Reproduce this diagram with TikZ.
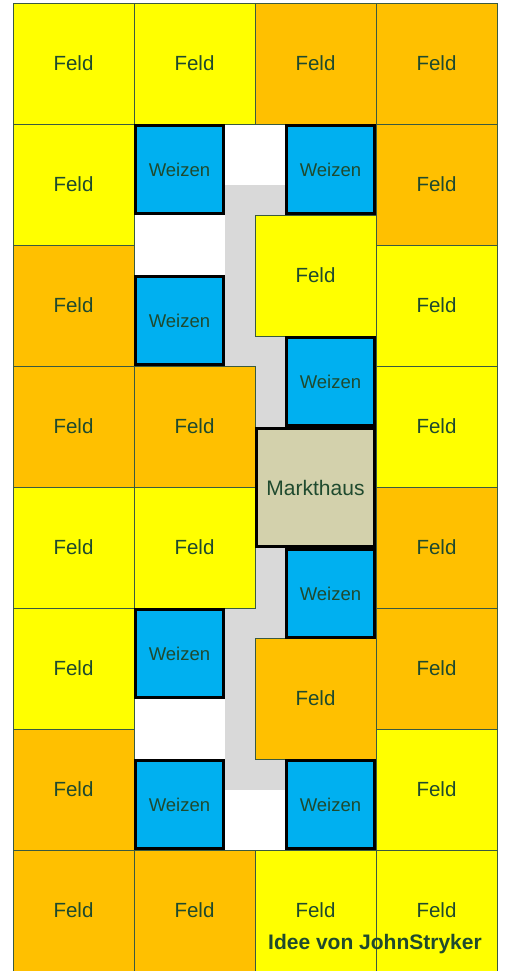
\documentclass[tikz,border=0pt]{standalone}
\usepackage{fontspec}
\setmainfont{Liberation Sans}
\definecolor{fyel}{HTML}{FFFF00}
\definecolor{forg}{HTML}{FFC000}
\definecolor{wblue}{HTML}{00B0F0}
\definecolor{mtan}{HTML}{D3D1AC}
\definecolor{pathgray}{HTML}{D9D9D9}
\definecolor{txt}{HTML}{1F4A2E}
\definecolor{cellline}{HTML}{3A5A40}
\begin{document}
\begin{tikzpicture}[x=1pt,y=-1pt,
  cell/.style={draw=cellline, line width=0.8pt, minimum width=121pt, minimum height=121pt,
    inner sep=0pt, outer sep=0pt, text=txt, font=\fontsize{20.5}{24}\selectfont},
  yel/.style={cell, fill=fyel},
  org/.style={cell, fill=forg},
  weizen/.style={draw=black, line width=3pt, fill=wblue, minimum size=88pt,
    inner sep=0pt, outer sep=0pt, text=txt, font=\fontsize{18.5}{22}\selectfont},
  markt/.style={draw=black, line width=3pt, fill=mtan, minimum size=118pt,
    inner sep=0pt, outer sep=0pt, text=txt, font=\fontsize{21}{25}\selectfont},
  credit/.style={text=txt, font=\fontsize{21}{25}\selectfont\bfseries, inner sep=0pt}]
\useasboundingbox (0,0) rectangle (507,971);
\fill[white] (0,0) rectangle (507,971);
% gray path
\fill[pathgray] (225,185) rectangle (285,790);
% row 0
\node[yel] (f00) at (73.5,63.5) {Feld};
\node[yel] (f01) at (194.5,63.5) {Feld};
\node[org] (f02) at (315.5,63.5) {Feld};
\node[org] (f03) at (436.5,63.5) {Feld};
% row 1
\node[yel] (f10) at (73.5,184.5) {Feld};
\node[org] (f13) at (436.5,184.5) {Feld};
% row 2
\node[org] (f20) at (73.5,305.5) {Feld};
\node[yel] (f23) at (436.5,305.5) {Feld};
% row 3
\node[org] (f30) at (73.5,426.5) {Feld};
\node[org] (f31) at (194.5,426.5) {Feld};
\node[yel] (f33) at (436.5,426.5) {Feld};
% row 4
\node[yel] (f40) at (73.5,547.5) {Feld};
\node[yel] (f41) at (194.5,547.5) {Feld};
\node[org] (f43) at (436.5,547.5) {Feld};
% row 5
\node[yel] (f50) at (73.5,668.5) {Feld};
\node[org] (f53) at (436.5,668.5) {Feld};
% row 6
\node[org] (f60) at (73.5,789.5) {Feld};
\node[yel] (f63) at (436.5,789.5) {Feld};
% row 7
\node[org] (f70) at (73.5,910.5) {Feld};
\node[org] (f71) at (194.5,910.5) {Feld};
\node[yel] (f72) at (315.5,910.5) {Feld};
\node[yel] (f73) at (436.5,910.5) {Feld};
% central offset fields
\node[yel] (fc1) at (315.5,275.5) {Feld};
\node[org] (fc2) at (315.5,698.5) {Feld};
% Weizen
\node[weizen] (w1) at (179.5,169.5) {Weizen};
\node[weizen] (w2) at (330.5,169.5) {Weizen};
\node[weizen] (w3) at (179.5,320.5) {Weizen};
\node[weizen] (w4) at (330.5,381.5) {Weizen};
\node[weizen] (w5) at (330.5,593.5) {Weizen};
\node[weizen] (w6) at (179.5,653.5) {Weizen};
\node[weizen] (w7) at (179.5,804.5) {Weizen};
\node[weizen] (w8) at (330.5,804.5) {Weizen};
% Markthaus
\node[markt] (mh) at (315.5,487.5) {Markthaus};
% credit
\node[credit] (idee) at (375,944) {Idee von JohnStryker};
\end{tikzpicture}
\end{document}
